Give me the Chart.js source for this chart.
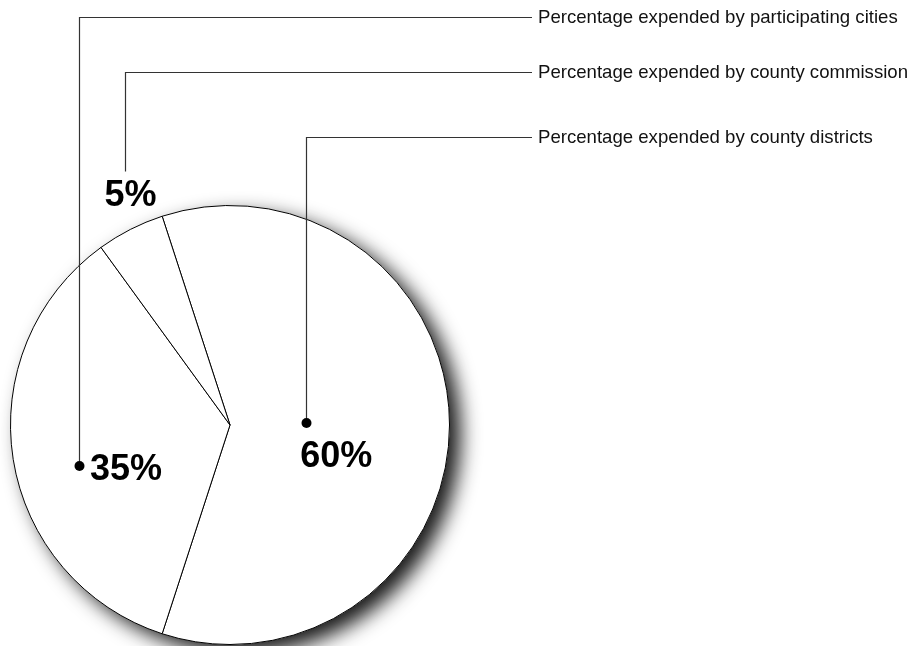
<!DOCTYPE html>
<html>
<head>
<meta charset="utf-8">
<script src="https://cdn.jsdelivr.net/npm/chart.js@4"></script>
<style>
  body { margin: 0; background: #fff; }
  canvas { display: block; }
</style>
</head>
<body>
<canvas id="pieChart" width="911" height="646"></canvas>
<script>
// data
const categories = [
    "Percentage expended by county districts",
    "Percentage expended by participating cities",
    "Percentage expended by county commission"
];
const shares = [60, 35, 5];
const shareLabels = ["60%", "35%", "5%"];

// callout layout, offsets relative to pie centre in units of radius
const callouts = [
    { dot: [0.346, -0.009], lineY: 137, text: [0.32, 0.19], showDot: true },
    { dot: [-0.69, 0.187], lineY: 17, text: [-0.638, 0.25], showDot: true },
    { dot: [-0.479, -1.155], lineY: 72, text: [-0.572, -1.0], showDot: false }
];

const shadowPlugin = {
    id: "pieShadow",
    beforeDatasetsDraw(chart) {
        const arc = chart.getDatasetMeta(0).data[0];
        const ctx = chart.ctx;
        ctx.save();
        ctx.shadowColor = "rgba(0,0,0,0.9)";
        ctx.shadowBlur = 20;
        ctx.shadowOffsetX = 11;
        ctx.shadowOffsetY = 9;
        ctx.fillStyle = "#fff";
        ctx.beginPath();
        ctx.arc(arc.x, arc.y, arc.outerRadius, 0, Math.PI * 2);
        ctx.fill();
        ctx.restore();
    }
};

const calloutPlugin = {
    id: "callouts",
    afterDraw(chart) {
        const arc = chart.getDatasetMeta(0).data[0];
        const cx = arc.x, cy = arc.y, r = arc.outerRadius;
        const ctx = chart.ctx;
        const lineEnd = 532;
        ctx.save();
        callouts.forEach((c, i) => {
            const dx = Math.round(cx + c.dot[0] * r) + 0.5;
            const dy = cy + c.dot[1] * r;
            ctx.strokeStyle = "#333";
            ctx.lineWidth = 1.2;
            ctx.beginPath();
            ctx.moveTo(dx, dy);
            ctx.lineTo(dx, c.lineY + 0.5);
            ctx.lineTo(lineEnd, c.lineY + 0.5);
            ctx.stroke();
            if (c.showDot) {
                ctx.fillStyle = "#000";
                ctx.beginPath();
                ctx.arc(dx, dy, 5, 0, Math.PI * 2);
                ctx.fill();
            }
            ctx.fillStyle = "#111";
            ctx.font = "18.6px 'Liberation Sans', Arial, sans-serif";
            ctx.textBaseline = "middle";
            ctx.textAlign = "left";
            ctx.fillText(categories[i], lineEnd + 6, c.lineY + 1);

            ctx.fillStyle = "#000";
            ctx.font = "bold 36px 'Liberation Sans', Arial, sans-serif";
            ctx.textBaseline = "alphabetic";
            ctx.fillText(shareLabels[i], cx + c.text[0] * r, cy + c.text[1] * r);
        });
        ctx.restore();
    }
};

new Chart(document.getElementById("pieChart"), {
    type: "pie",
    data: {
        labels: categories,
        datasets: [{
            data: shares,
            backgroundColor: "#fff",
            borderColor: "#000",
            borderWidth: 1
        }]
    },
    options: {
        responsive: false,
        animation: false,
        rotation: -18,
        layout: { padding: { left: 10, right: 461, top: 205, bottom: 1 } },
        plugins: {
            legend: { display: false },
            tooltip: { enabled: false }
        }
    },
    plugins: [shadowPlugin, calloutPlugin]
});
</script>
</body>
</html>
